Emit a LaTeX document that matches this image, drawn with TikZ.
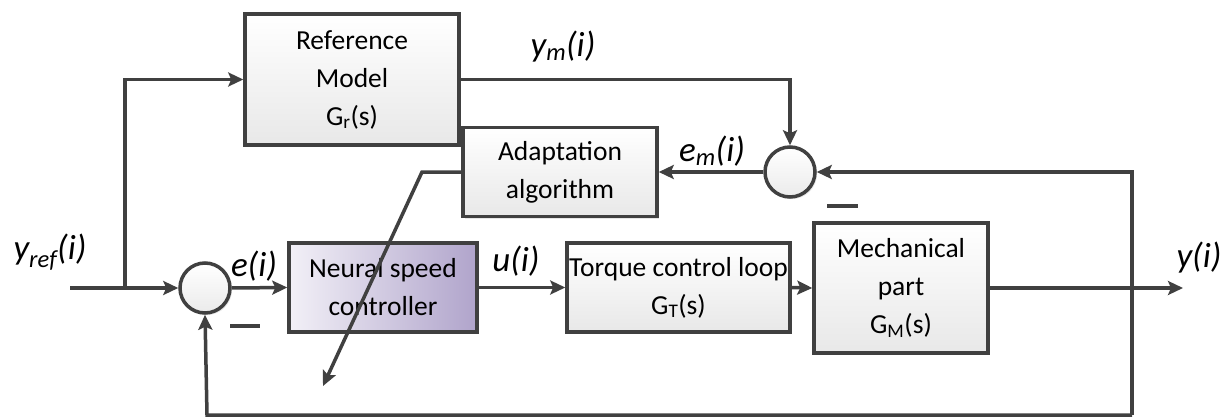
\documentclass[tikz,border=0pt]{standalone}
\usepackage{fontspec}
\setmainfont{Carlito}
\usetikzlibrary{arrows.meta,shadows}
\definecolor{ln}{HTML}{404040}
\definecolor{nl}{HTML}{F2F0F7}
\definecolor{nr}{HTML}{B0A4CB}
\tikzset{
  blk/.style={draw=ln,line width=3.5pt,top color=white,bottom color=black!9,align=center,
    font=\fontsize{27.5}{38}\selectfont,inner sep=0pt,
    drop shadow={opacity=0.2,shadow xshift=2pt,shadow yshift=-2pt}},
  sumc/.style={circle,draw=ln,line width=3.5pt,minimum size=50pt,inner sep=0pt,
    top color=white,bottom color=black!8,
    drop shadow={opacity=0.2,shadow xshift=2pt,shadow yshift=-2pt}},
  conn/.style={draw=ln,line width=3.5pt},
  arr/.style={conn,-{Stealth[length=15pt,width=14pt,inset=3pt]}},
  lbl/.style={font=\fontsize{35}{40}\selectfont\itshape,inner sep=0pt},
  minus/.style={draw=ln,line width=4pt}
}
\begin{document}
\begin{tikzpicture}[x=1pt,y=-1pt]
\useasboundingbox (0,0) rectangle (1226,417);
% blocks
\node[blk,minimum width=214pt,minimum height=131pt] (ref) at (352,79.5) {Reference\\Model\\G\textsubscript{r}(s)};
\node[blk,minimum width=194pt,minimum height=89pt] (adapt) at (560,172) {Adaptation\\algorithm};
\node[blk,left color=nl,right color=nr,minimum width=188pt,minimum height=89pt] (nsc) at (383,287.5) {Neural speed\\controller};
\node[blk,minimum width=223pt,minimum height=89pt] (tq) at (678.5,287.5) {Torque control loop\\G\textsubscript{T}(s)};
\node[blk,minimum width=174pt,minimum height=130pt] (mech) at (901,288) {Mechanical\\part\\G\textsubscript{M}(s)};
\node[sumc] (s1) at (205,288) {};
\node[sumc] (s2) at (790,172) {};
% coordinates
\coordinate (in) at (70,288);
\coordinate (br) at (125,288);
\coordinate (out) at (1183,288);
\coordinate (fbt) at (1132,172);
\coordinate (fbb) at (1132,415);
\coordinate (bl) at (207,415);
\coordinate (ad1) at (422,172);
\coordinate (ad2) at (323,386);
% connectors
\draw[arr] (in) -- (s1.west);
\draw[arr] (br) |- (ref.west);
\draw[arr] (ref.east) -| (s2.north);
\draw[arr] (s2.west) -- (adapt.east);
\draw[arr] (adapt.west) -- (ad1) -- (ad2);
\draw[arr] (s1.east) -- (nsc.west);
\draw[arr] (nsc.east) -- (tq.west);
\draw[arr] (tq.east) -- (mech.west);
\draw[arr] (mech.east) -- (out);
\draw[arr] (fbb) -- (fbt) -- (s2.east);
\draw[arr] (fbb) -- (bl) -- (s1.south);
% labels
\node[lbl] (lyref) at (50,252) {y\textsubscript{ref}(i)};
\node[lbl] (le) at (254,266) {e(i)};
\node[lbl] (lu) at (516,261) {u(i)};
\node[lbl] (lym) at (563,47) {y\textsubscript{m}(i)};
\node[lbl] (lem) at (712,151) {e\textsubscript{m}(i)};
\node[lbl] (ly) at (1199,258) {y(i)};
\draw[minus] (230,326) -- (260,326);
\draw[minus] (827,206) -- (858,206);
\end{tikzpicture}
\end{document}
